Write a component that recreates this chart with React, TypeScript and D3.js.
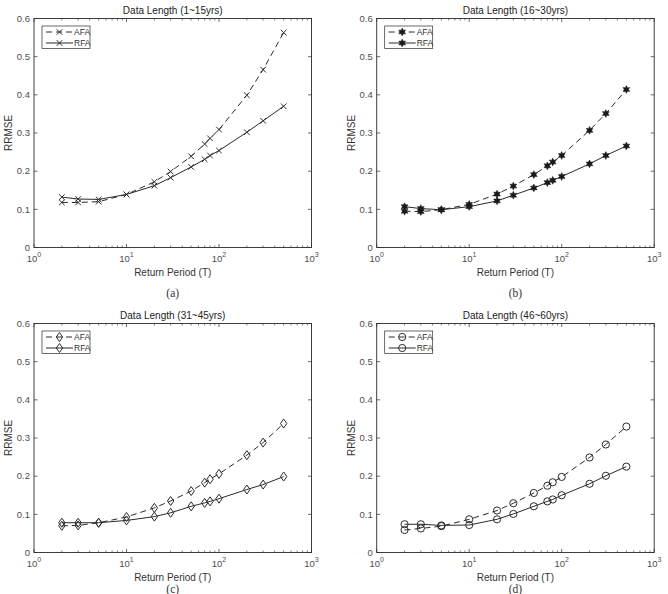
import { useEffect, useRef } from 'react';
import * as d3 from 'd3';

// Return periods (years) shared by every panel
const returnPeriods = [2, 3, 5, 10, 20, 30, 50, 70, 80, 100, 200, 300, 500];

// RRMSE for at-site (AFA) and regional (RFA) frequency analysis
const afa1 = [0.118, 0.118, 0.12, 0.139, 0.172, 0.199, 0.239, 0.271, 0.286, 0.309, 0.399, 0.466, 0.563];
const rfa1 = [0.132, 0.127, 0.126, 0.139, 0.162, 0.183, 0.211, 0.231, 0.241, 0.254, 0.302, 0.332, 0.37];
const afa2 = [0.095, 0.094, 0.099, 0.113, 0.14, 0.161, 0.191, 0.214, 0.224, 0.241, 0.307, 0.351, 0.414];
const rfa2 = [0.107, 0.102, 0.099, 0.107, 0.122, 0.137, 0.156, 0.17, 0.176, 0.186, 0.219, 0.241, 0.266];
const afa3 = [0.07, 0.071, 0.078, 0.093, 0.117, 0.135, 0.161, 0.183, 0.192, 0.206, 0.255, 0.288, 0.338];
const rfa3 = [0.078, 0.078, 0.078, 0.084, 0.094, 0.104, 0.121, 0.13, 0.134, 0.141, 0.165, 0.178, 0.199];
const afa4 = [0.059, 0.063, 0.069, 0.087, 0.11, 0.129, 0.156, 0.175, 0.184, 0.198, 0.249, 0.283, 0.33];
const rfa4 = [0.074, 0.074, 0.071, 0.072, 0.087, 0.101, 0.121, 0.134, 0.139, 0.15, 0.18, 0.201, 0.225];

const titles = ['Data Length (1~15yrs)', 'Data Length (16~30yrs)', 'Data Length (31~45yrs)', 'Data Length (46~60yrs)'];
const captions = ['(a)', '(b)', '(c)', '(d)'];
const markers = ['x', 'star', 'diamond', 'circle'];
const yTicks = [0, 0.1, 0.2, 0.3, 0.4, 0.5, 0.6];
const xDecades = [1, 10, 100, 1000];

const panels = [
  { afa: afa1, rfa: rfa1, left: 34, top: 18.5, caption: 49 },
  { afa: afa2, rfa: rfa2, left: 376.7, top: 18.5, caption: 49 },
  { afa: afa3, rfa: rfa3, left: 34, top: 323.5, caption: 40 },
  { afa: afa4, rfa: rfa4, left: 376.7, top: 323.5, caption: 40 },
];

const W = 668;
const H = 594;
const plotW = 277.5;
const plotH = 229;
const ink = '#2b2b2b';
const labelColor = '#4d4d4d';
const font = '"Liberation Sans", Arial, sans-serif';

// six-pointed filled star
const starPath = (x, y, r1, r2) => {
  const pts = [];
  for (let k = 0; k < 12; k++) {
    const a = (Math.PI / 6) * k - Math.PI / 2;
    const r = k % 2 === 0 ? r1 : r2;
    pts.push([x + r * Math.cos(a), y + r * Math.sin(a)]);
  }
  return 'M' + pts.map(q => q.join(',')).join('L') + 'Z';
};

const drawMarker = (g, kind, x, y) => {
  if (kind === 'x') {
    const s = 2.8;
    g.append('path')
      .attr('d', `M${x - s},${y - s}L${x + s},${y + s}M${x - s},${y + s}L${x + s},${y - s}`)
      .attr('stroke', ink).attr('stroke-width', 1).attr('fill', 'none');
  } else if (kind === 'star') {
    g.append('path')
      .attr('d', starPath(x, y, 3.9, 2.1))
      .attr('fill', '#1a1a1a').attr('stroke', '#1a1a1a').attr('stroke-width', 0.5);
  } else if (kind === 'diamond') {
    g.append('path')
      .attr('d', `M${x},${y - 4.5}L${x + 3.2},${y}L${x},${y + 4.5}L${x - 3.2},${y}Z`)
      .attr('stroke', ink).attr('stroke-width', 1).attr('fill', 'none');
  } else {
    g.append('circle')
      .attr('cx', x).attr('cy', y).attr('r', 3.6)
      .attr('stroke', ink).attr('stroke-width', 1).attr('fill', 'none');
  }
};

const App = () => {
  const svgRef = useRef(null);

  useEffect(() => {
    if (!svgRef.current) return;
    const svg = d3.select(svgRef.current);
    svg.selectAll('*').remove();

    svg.append('rect').attr('width', W).attr('height', H).attr('fill', '#fff');

    panels.forEach((p, i) => {
      const x = d3.scaleLog().domain([1, 1000]).range([p.left, p.left + plotW]);
      const y = d3.scaleLinear().domain([0, 0.6]).range([p.top + plotH, p.top]);
      const g = svg.append('g');
      const bottom = p.top + plotH;
      const right = p.left + plotW;

      // Minor log ticks on bottom and top edges
      const minor = [];
      [1, 10, 100].forEach(d => {
        for (let k = 2; k <= 9; k++) minor.push(d * k);
      });
      minor.forEach(v => {
        g.append('line').attr('x1', x(v)).attr('x2', x(v)).attr('y1', bottom).attr('y2', bottom - 2)
          .attr('stroke', ink).attr('stroke-width', 0.6);
        g.append('line').attr('x1', x(v)).attr('x2', x(v)).attr('y1', p.top).attr('y2', p.top + 2)
          .attr('stroke', ink).attr('stroke-width', 0.6);
      });
      xDecades.forEach(v => {
        g.append('line').attr('x1', x(v)).attr('x2', x(v)).attr('y1', bottom).attr('y2', bottom - 3.5)
          .attr('stroke', ink).attr('stroke-width', 0.7);
        g.append('line').attr('x1', x(v)).attr('x2', x(v)).attr('y1', p.top).attr('y2', p.top + 3.5)
          .attr('stroke', ink).attr('stroke-width', 0.7);
        const t = g.append('text')
          .attr('x', x(v)).attr('y', bottom + 14)
          .attr('text-anchor', 'middle')
          .attr('font-family', font).attr('font-size', 9.5).attr('fill', labelColor);
        t.append('tspan').text('10');
        t.append('tspan').attr('dy', -4.5).attr('font-size', 7).text(String(Math.round(Math.log10(v))));
      });

      // Y ticks on both sides
      yTicks.forEach(v => {
        g.append('line').attr('x1', p.left).attr('x2', p.left + 3.5).attr('y1', y(v)).attr('y2', y(v))
          .attr('stroke', ink).attr('stroke-width', 0.7);
        g.append('line').attr('x1', right).attr('x2', right - 3.5).attr('y1', y(v)).attr('y2', y(v))
          .attr('stroke', ink).attr('stroke-width', 0.7);
        g.append('text')
          .attr('x', p.left - 4).attr('y', y(v) + 3.3)
          .attr('text-anchor', 'end')
          .attr('font-family', font).attr('font-size', 9.5).attr('fill', labelColor)
          .text(d3.format('')(v));
      });

      g.append('rect')
        .attr('x', p.left).attr('y', p.top).attr('width', plotW).attr('height', plotH)
        .attr('fill', 'none').attr('stroke', ink).attr('stroke-width', 0.9);

      const line = d3.line()
        .x((d, j) => x(returnPeriods[j]))
        .y(d => y(d));

      g.append('path').datum(p.afa).attr('d', line)
        .attr('fill', 'none').attr('stroke', ink).attr('stroke-width', 1)
        .attr('stroke-dasharray', '6,4');
      g.append('path').datum(p.rfa).attr('d', line)
        .attr('fill', 'none').attr('stroke', ink).attr('stroke-width', 1);

      p.afa.forEach((v, j) => drawMarker(g, markers[i], x(returnPeriods[j]), y(v)));
      p.rfa.forEach((v, j) => drawMarker(g, markers[i], x(returnPeriods[j]), y(v)));

      // Legend
      const lx = p.left + 8;
      const ly = p.top + 7.5;
      g.append('rect').attr('x', lx).attr('y', ly).attr('width', 48).attr('height', 22.5)
        .attr('fill', '#fff').attr('stroke', ink).attr('stroke-width', 0.7);
      [['AFA', true], ['RFA', false]].forEach(([name, dashed], k) => {
        const cy = ly + 6 + k * 11;
        g.append('line').attr('x1', lx + 4).attr('x2', lx + 31).attr('y1', cy).attr('y2', cy)
          .attr('stroke', ink).attr('stroke-width', 1)
          .attr('stroke-dasharray', dashed ? '6,4' : null);
        drawMarker(g, markers[i], lx + 17.5, cy);
        g.append('text').attr('x', lx + 32).attr('y', cy + 3)
          .attr('font-family', font).attr('font-size', 8.5).attr('fill', '#333')
          .text(name);
      });

      g.append('text')
        .attr('x', p.left + plotW / 2).attr('y', p.top - 5)
        .attr('text-anchor', 'middle')
        .attr('font-family', font).attr('font-size', 10).attr('fill', '#222')
        .text(titles[i]);

      g.append('text')
        .attr('x', p.left + plotW / 2).attr('y', bottom + 28.5)
        .attr('text-anchor', 'middle')
        .attr('font-family', font).attr('font-size', 10).attr('fill', '#333')
        .text('Return Period (T)');

      g.append('text')
        .attr('transform', `translate(${p.left - 22},${p.top + plotH / 2}) rotate(-90)`)
        .attr('text-anchor', 'middle')
        .attr('font-family', font).attr('font-size', 10).attr('fill', '#333')
        .text('RRMSE');

      g.append('text')
        .attr('x', p.left + plotW / 2).attr('y', bottom + p.caption)
        .attr('text-anchor', 'middle')
        .attr('font-family', '"Liberation Serif", "DejaVu Serif", serif').attr('font-size', 11.5).attr('fill', '#333')
        .text(captions[i]);
    });
  }, []);

  return (
    <svg
      ref={svgRef}
      width={W}
      height={H}
      style={{ position: 'absolute', left: 0, top: 0, display: 'block' }}
    />
  );
};

export default App;
